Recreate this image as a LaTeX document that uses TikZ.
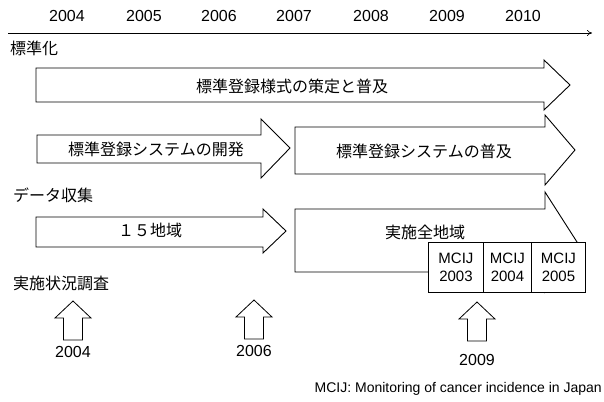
\documentclass[tikz,border=0pt]{standalone}
\usepackage{fontspec}
\setmainfont{Liberation Sans}
\newfontfamily\jp{Noto Sans CJK JP}
\usetikzlibrary{arrows.meta}
\begin{document}
\begin{tikzpicture}[x=1pt,y=-1pt,
  shp/.style={draw=black,line width=0.9pt,fill=white,line join=miter},
  jtxt/.style={font=\jp\fontsize{16}{18}\selectfont,inner sep=0pt},
  ytxt/.style={font=\fontsize{16}{18}\selectfont,inner sep=0pt},
  btxt/.style={font=\fontsize{15}{17.5}\selectfont,align=center,inner sep=0pt}]
\useasboundingbox (0,0) rectangle (604,401);
% years
\foreach \yr/\xx in {2004/67,2005/144,2006/219,2007/294,2008/371,2009/447,2010/523}
  \node[ytxt] (y\yr) at (\xx,16) {\yr};
\coordinate (axL) at (8,33);
\coordinate (axR) at (592,33);
\draw[line width=0.7pt,-{To[length=5pt,width=6pt]}] (axL) -- (axR);
% left labels
\node[jtxt,anchor=west] (lab1) at (10,48) {標準化};
\node[jtxt,anchor=west] (lab2) at (13,195) {データ収集};
\node[jtxt,anchor=west] (lab3) at (13,283) {実施状況調査};
% arrow 1
\draw[shp] (36,68) -- (544,68) -- (544,60) -- (570,85) -- (544,110) -- (544,102) -- (36,102) -- cycle;
\node[jtxt] (t1) at (292,86) {標準登録様式の策定と普及};
% arrow 2
\draw[shp] (37,135) -- (261,135) -- (261,119) -- (290,148) -- (261,178) -- (261,163) -- (37,163) -- cycle;
\node[jtxt] (t2) at (156,149) {標準登録システムの開発};
% arrow 3
\draw[shp] (295,127) -- (545,127) -- (545,115) -- (575,150) -- (545,185) -- (545,174) -- (295,174) -- cycle;
\node[jtxt] (t3) at (424,151) {標準登録システムの普及};
% arrow 4
\draw[shp] (36,217) -- (263,217) -- (263,209) -- (286,231) -- (263,253) -- (263,247) -- (36,247) -- cycle;
\node[jtxt] (t4) at (150,230) {１５地域};
% arrow 5
\draw[shp] (295,209) -- (545,209) -- (545,192) -- (577,242) -- (545,292) -- (545,272) -- (295,272) -- cycle;
\node[jtxt] (t5) at (425,232) {実施全地域};
% MCIJ boxes
\node[shp,minimum width=55pt,minimum height=50pt,btxt,anchor=north west] (m1) at (428,242) {MCIJ\\2003};
\node[shp,minimum width=48pt,minimum height=50pt,btxt,anchor=north west] (m2) at (483,242) {MCIJ\\2004};
\node[shp,minimum width=54pt,minimum height=50pt,btxt,anchor=north west] (m3) at (531,242) {MCIJ\\2005};
% up arrows
\foreach \nm/\cx/\ty in {a/73/301,b/254/300,c/477/302}{
  \draw[shp,line width=0.8pt] (\cx,\ty) -- ({\cx+18},{\ty+17}) -- ({\cx+9.5},{\ty+17}) -- ({\cx+9.5},{\ty+39}) -- ({\cx-9.5},{\ty+39}) -- ({\cx-9.5},{\ty+17}) -- ({\cx-18},{\ty+17}) -- cycle;
}
\node[ytxt] (ua) at (73,352) {2004};
\node[ytxt] (ub) at (254,351) {2006};
\node[ytxt] (uc) at (477,360) {2009};
% footnote
\node[font=\fontsize{14}{16}\selectfont,inner sep=0pt,anchor=east] (fn) at (602,389) {MCIJ: Monitoring of cancer incidence in Japan};
\end{tikzpicture}
\end{document}
